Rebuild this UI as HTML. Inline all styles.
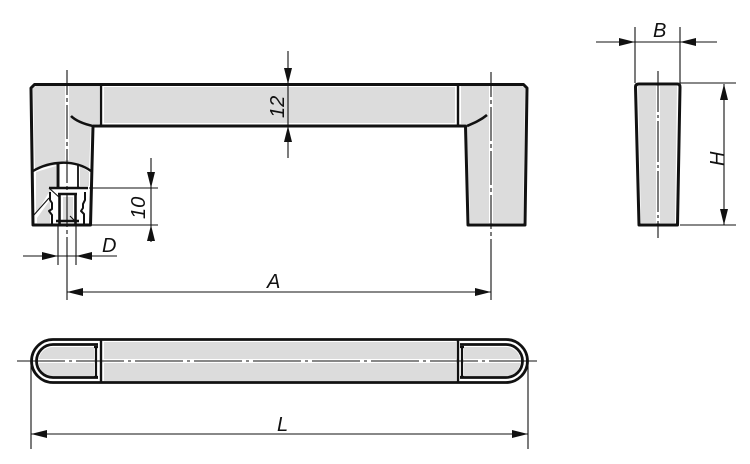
<!DOCTYPE html>
<html><head><meta charset="utf-8"><style>
html,body{margin:0;padding:0;background:#fff}
svg{display:block}
text{font-family:"Liberation Sans",sans-serif;font-style:italic;font-size:20px;fill:#111}
</style></head><body>
<svg width="750" height="464" viewBox="0 0 750 464" xmlns="http://www.w3.org/2000/svg">
<defs>
<marker id="a" viewBox="0 0 16 8" refX="16" refY="4" markerWidth="16" markerHeight="8" markerUnits="userSpaceOnUse" orient="auto-start-reverse"><path d="M0 0L16 4L0 8Z" fill="#111"/></marker>
</defs>
<!-- fills -->
<g fill="#dcdcdc" stroke="none">
<path d="M33 88L36 86H99V124H91L89 169L67 163L35 169Z"/>
<rect x="104" y="87" width="351" height="36"/>
<path d="M461 86H522L525 88L523 223H470L467 124H461Z"/>
<path d="M36 172L56 166V186L48 194L36 214ZM80 166L89 172V186H80ZM37 218L50 200V223H37Z"/>
<rect x="63" y="197" width="10" height="24"/>
<path d="M638 86H677L675 223H641Z"/>
<path d="M104 342H456V381H104Z"/>
<path d="M94 347H53A14.500 14.500 0 0 0 53 376H94Z"/>
<path d="M464 347H506A14.500 14.500 0 0 1 506 376H464Z"/>
</g>
<!-- white centre halos -->
<g stroke="#fff" stroke-width="4" fill="none">
<path d="M67 86V160M491 86V224M658 86V224M104 361H456M38 361H94M464 361H522"/>
</g>
<!-- thick outlines -->
<g stroke="#111" stroke-width="3" fill="none" stroke-linejoin="round">
<path d="M93 126L90.500 225H33L31 88L34.500 84.500H523.500L527 88L525 225H468L465.500 126H93"/>
<path d="M101 84V126M458 84V126" stroke-width="2.400"/>
<path d="M71 116C76 121 84 124 93 126M487 115C481 120 474 123 467 126" stroke-width="2.600"/>
<path d="M33 171C50 161 74 159 91 171" stroke-width="2.400"/>
<path d="M639 84H677.500Q680 84 680 87L677.500 225H639L635.500 87Q635.500 84 639 84Z"/>
<path d="M53 339.500H506A21.500 21.500 0 0 1 506 382.500H53A21.500 21.500 0 0 1 53 339.500Z" stroke-width="2.800"/>
<path d="M98 344.500H53A16.500 16.500 0 0 0 53 377.500H98M460 344.500H506A16.500 16.500 0 0 1 506 377.500H460" stroke-width="2.800"/>
<path d="M101 339V383M458 339V383" stroke-width="2.400"/>
<path d="M96 347V377M94 347H98M94 377H98M462 347V377M460 347H464M460 377H464" stroke-width="2.200"/>
<!-- insert -->
<path d="M58 163V188" stroke-width="3"/>
<path d="M78 164V188" stroke-width="1.800"/>
<path d="M49 188H88" stroke-width="2.400"/>
<path d="M50 192V200L52 203V209L49 211L52 215V225M85 192V200L83 204V208L81 211L84 214V225" stroke-width="2"/>
<path d="M58 194H77M59.500 194V225M75.500 194V225" stroke-width="2.600"/>
<path d="M56 221H79" stroke-width="2.400"/>
</g>
<!-- thin lines -->
<g stroke="#111" stroke-width="1.100" fill="none">
<path d="M491 72V240" stroke-dasharray="34 3 4 3" stroke-dashoffset="9"/>
<path d="M67 70V268" stroke-dasharray="34 3 4 3" stroke-dashoffset="9"/>
<path d="M67 268V300M491 240V300"/>
<path d="M658 71V238" stroke-dasharray="41 3 3 3"/>
<path d="M17 361H538" stroke-dasharray="48 4 3 4"/>
<path d="M31 361V449M528 361V449"/>
<path d="M58 225V265M76 225V265"/>
<path d="M89 188H158M91 225H158"/>
<path d="M635 27V83M680 27V83M680 83H736M680 225H736"/>
<path d="M33 216L49 198M60 198L49 188M76 222L70 216"/>
</g>
<!-- dimensions -->
<g stroke="#111" stroke-width="1.100" fill="none">
<path d="M67 292H491" marker-start="url(#a)" marker-end="url(#a)"/>
<path d="M31 434H528" marker-start="url(#a)" marker-end="url(#a)"/>
<path d="M288 51V84" marker-end="url(#a)"/>
<path d="M288 84V126"/>
<path d="M288 158V126" marker-end="url(#a)"/>
<path d="M151 158V188" marker-end="url(#a)"/>
<path d="M151 188V225"/>
<path d="M151 242V225" marker-end="url(#a)"/>
<path d="M23 256H58" marker-end="url(#a)"/>
<path d="M58 256H76"/>
<path d="M117 256H76" marker-end="url(#a)"/>
<path d="M596 42H635" marker-end="url(#a)"/>
<path d="M635 42H680"/>
<path d="M717 42H680" marker-end="url(#a)"/>
<path d="M724 84V225" marker-start="url(#a)" marker-end="url(#a)"/>
</g>
<text x="267" y="288">A</text>
<text x="277" y="431">L</text>
<text x="102" y="252">D</text>
<text x="653" y="37">B</text>
<text transform="translate(724,166) rotate(-90)">H</text>
<text transform="translate(145,219) rotate(-90)">10</text>
<text transform="translate(284,118) rotate(-90)">12</text>
</svg>
</body></html>
